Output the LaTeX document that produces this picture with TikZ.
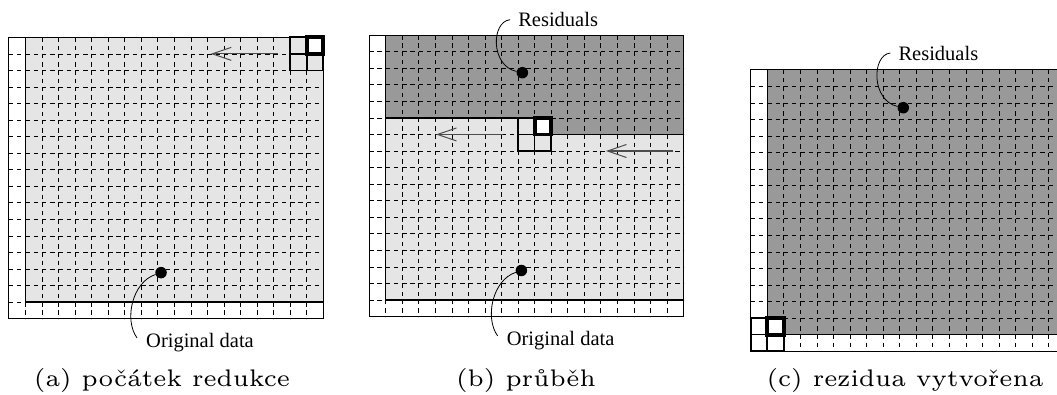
\documentclass[tikz,border=0pt]{standalone}
\usepackage{fontspec}
\usepackage{graphicx}
\newfontfamily\labfont{Liberation Serif}
\usetikzlibrary{arrows.meta}
\definecolor{lightfill}{gray}{0.9}
\definecolor{darkfill}{gray}{0.6}
\definecolor{arrowgray}{gray}{0.3}
\tikzset{
  outerbox/.style={draw=black, line width=0.8pt},
  gridline/.style={line width=0.7pt, dash pattern=on 4.4pt off 3.875pt},
  edgeline/.style={line width=1.5pt},
  blockline/.style={line width=1.7pt},
  thickcell/.style={line width=3.8pt},
  scanarrow/.style={draw=arrowgray, line width=1.1pt, -{Straight Barb[length=19pt,width=13pt,line width=1pt]}},
  dotnode/.style={circle, fill=black, inner sep=0pt, minimum size=11.5pt},
  labnode/.style={font=\labfont\fontsize{20.5}{24}\selectfont, inner sep=0pt},
  leader/.style={line width=0.8pt},
  capnode/.style={inner sep=0pt, anchor=base}
}
\newcommand\panelgrid{%
  \foreach \r in {1,...,16} {\draw[gridline] (0,\r) -- (19,\r);}
  \foreach \c in {1,...,18} {\draw[gridline] (\c,0) -- (\c,17);}
}
\newcommand\capfont{\fontsize{6}{7}\selectfont}
\begin{document}
\begin{tikzpicture}[x=1pt,y=1pt]
\useasboundingbox (0,0) rectangle (1057,-394);
\clip (0,0) rectangle (1057,-394);

% ---------------- panel (a)
\begin{scope}[shift={(8.8pt,-37.3pt)}, x=16.55pt, y=-16.55pt]
  \fill[lightfill] (1,0) rectangle (19,16);
  \panelgrid
  \fill[white] (18,0) rectangle (19,1);
  \draw[outerbox] (0,0) rectangle (19,17);
  \draw[edgeline] (1,0) -- (1,16) -- (19,16);
  \draw[blockline] (17,0) rectangle (19,2) (18,0) -- (18,2) (17,1) -- (19,1);
  \draw[thickcell] (18,0) rectangle (19,1);
  \coordinate (a1s) at (16.25,1);
  \coordinate (a1e) at (12.2,1);
  \draw[scanarrow] (a1s) -- (a1e);
  \node[dotnode] (oa) at (9.2,14.22) {};
  \node[labnode, anchor=base west] (la) at (8.29,18.76) {Original data};
  \draw[leader] (oa) .. controls +(-1.75,0.58) and +(-0.79,-1.09) .. ([xshift=-9pt,yshift=5pt]la.west);
\end{scope}

% ---------------- panel (b)
\begin{scope}[shift={(369.1pt,-35.15pt)}, x=16.55pt, y=-16.55pt]
  \fill[lightfill] (1,0) rectangle (19,16);
  \fill[darkfill] (1,0) rectangle (19,5);
  \fill[darkfill] (11,5) rectangle (19,6);
  \panelgrid
  \fill[white] (10,5) rectangle (11,6);
  \draw[outerbox] (0,0) rectangle (19,17);
  \draw[edgeline] (1,0) -- (1,16) -- (19,16);
  \draw[edgeline] (1,5) -- (9,5);
  \draw[edgeline] (11,6) -- (19,6);
  \draw[blockline] (9,5) rectangle (11,7) (10,5) -- (10,7) (9,6) -- (11,6);
  \draw[thickcell] (10,5) rectangle (11,6);
  \coordinate (b1s) at (8.11,6);
  \coordinate (b1e) at (4.04,6);
  \coordinate (b2s) at (18.38,7);
  \coordinate (b2e) at (14.31,7);
  \draw[scanarrow] (b1s) -- (b1e);
  \draw[scanarrow] (b2s) -- (b2e);
  \node[dotnode] (ob) at (9.2,14.22) {};
  \node[labnode, anchor=base west] (lb) at (8.31,18.77) {Original data};
  \draw[leader] (ob) .. controls +(-1.75,0.58) and +(-0.79,-1.09) .. ([xshift=-9pt,yshift=5pt]lb.west);
  \node[dotnode] (rb) at (9.26,2.27) {};
  \node[labnode, anchor=base west] (rlb) at (9.0,-0.51) {Residuals};
  \draw[leader] (rb) .. controls +(-1.93,-0.42) and +(-1.15,0.12) .. ([xshift=-8pt]rlb.west);
\end{scope}

% ---------------- panel (c)
\begin{scope}[shift={(750.7pt,-69.8pt)}, x=16.55pt, y=-16.55pt]
  \fill[darkfill] (1,0) rectangle (19,16);
  \panelgrid
  \fill[white] (1,15) rectangle (2,16);
  \draw[outerbox] (0,0) rectangle (19,17);
  \draw[edgeline] (1,0) -- (1,16) -- (19,16);
  \draw[blockline] (0,15) rectangle (2,17) (1,15) -- (1,17) (0,16) -- (2,16);
  \draw[thickcell] (1,15) rectangle (2,16);
  \node[dotnode] (rc) at (9.22,2.29) {};
  \node[labnode, anchor=base west] (rlc) at (8.92,-0.59) {Residuals};
  \draw[leader] (rc) .. controls +(-1.93,-0.42) and +(-1.15,0.12) .. ([xshift=-8pt]rlc.west);
\end{scope}

% ---------------- captions
\node[capnode] (capa) at (162,-386) {\scalebox{4}{\capfont (a) počátek redukce}};
\node[capnode] (capb) at (526,-386) {\scalebox{4}{\capfont (b) průběh}};
\node[capnode] (capc) at (905,-386) {\scalebox{4}{\capfont (c) rezidua vytvořena}};
\end{tikzpicture}
\end{document}
